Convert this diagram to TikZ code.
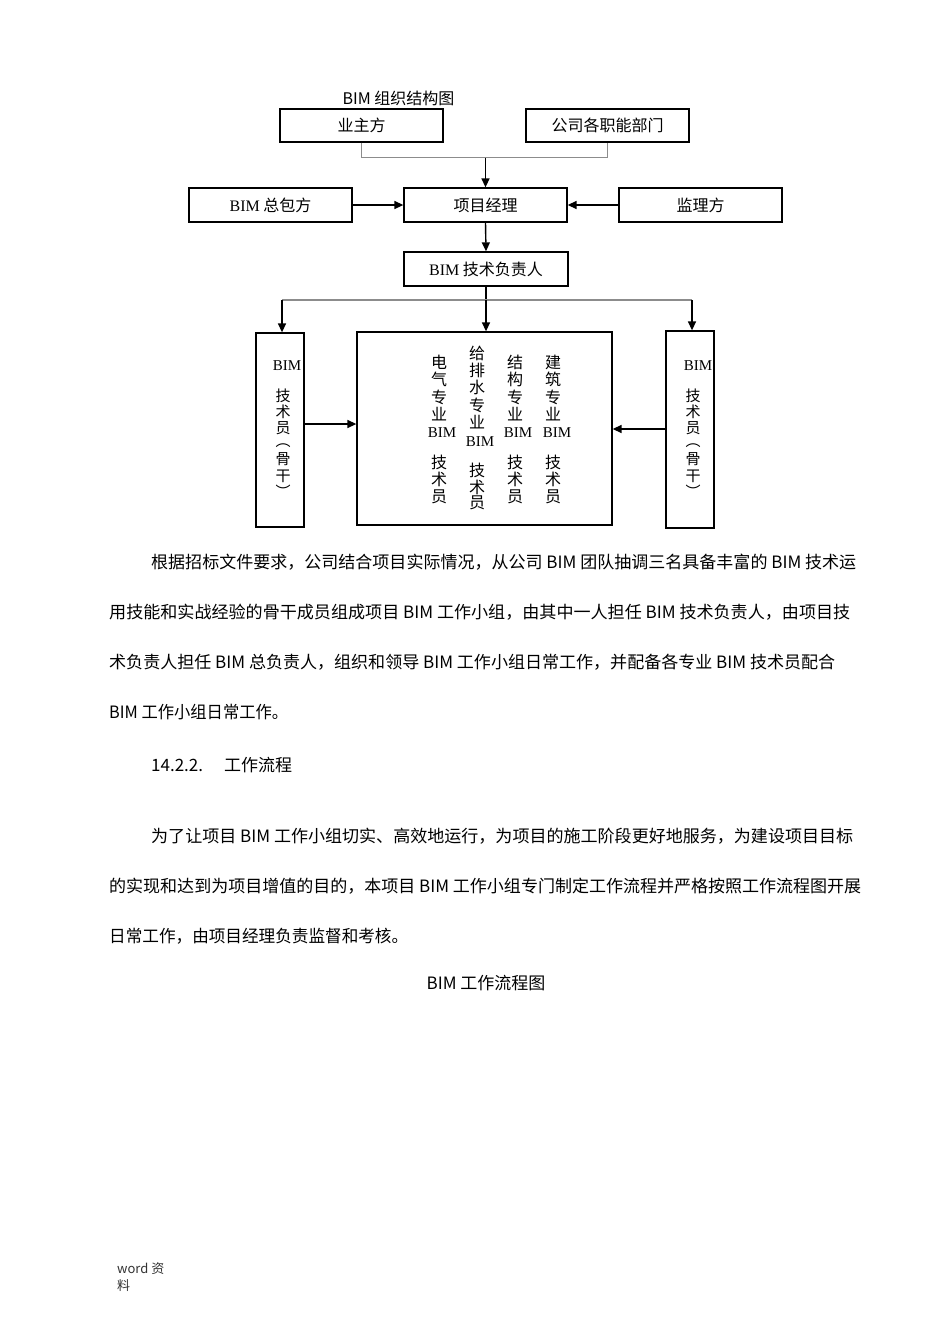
\documentclass[tikz,border=0pt]{standalone}
\usepackage{fontspec}
\usepackage{graphicx}
\setmainfont{Liberation Serif}
\newfontfamily\cjk{Noto Sans CJK SC}
\usetikzlibrary{arrows.meta}
\newcommand\pline[5]{\node[anchor=base west,inner sep=0] (#1) at (#2,#3) {\resizebox{#4pt}{\height}{\cjk\fontsize{17}{17}\selectfont #5}};}
\begin{document}
\begin{tikzpicture}[x=1pt,y=-1pt,
  box/.style={draw=black, line width=1.3pt, inner sep=0pt, font=\cjk\fontsize{16}{17}\selectfont},
  arr/.style={-{Triangle[length=9pt,width=8pt]}, line width=1.4pt},
  gline/.style={draw=black!45, line width=1.2pt},
  vt/.style={inner sep=0pt, font=\cjk\fontsize{16}{16}\selectfont},
  vs/.style={inner sep=0pt, font=\cjk\fontsize{15}{15}\selectfont},
  vb/.style={inner sep=0pt, font=\rmfamily\fontsize{15}{15}\selectfont}]
\fill[white] (0,0) rectangle (950,1344);
\useasboundingbox (0,0) rectangle (950,1344);

% title
\node[anchor=base, inner sep=0, font=\cjk\fontsize{16}{16}\selectfont] (title) at (398.5,104) {BIM 组织结构图};

% boxes
\node[box, minimum width=163pt, minimum height=33pt] (yz) at (361.5,125.5) {业主方};
\node[box, minimum width=163pt, minimum height=33pt] (gs) at (607.5,125.5) {公司各职能部门};
\node[box, minimum width=163pt, minimum height=34pt] (zb) at (270.5,205) {{\rmfamily BIM} 总包方};
\node[box, minimum width=163pt, minimum height=34pt] (xm) at (485.5,205) {项目经理};
\node[box, minimum width=163pt, minimum height=34pt] (jl) at (700.5,205) {监理方};
\node[box, minimum width=164pt, minimum height=34pt] (fz) at (486,269) {{\rmfamily BIM} 技术负责人};
\node[box, minimum width=48pt, minimum height=194pt] (L) at (280,430) {};
\node[box, minimum width=255pt, minimum height=193pt] (M) at (484.5,428.5) {};
\node[box, minimum width=48pt, minimum height=197pt] (R) at (690,429.5) {};

% connectors
\coordinate (j1) at (485.5,157.5);
\draw[gline] (yz.south) |- (j1) -| (gs.south);
\draw[arr] (j1) -- (xm.north);
\draw[arr] (zb.east) -- (xm.west);
\draw[arr] (jl.west) -- (xm.east);
\draw[arr] (xm.south) -- (fz.north);
\coordinate (hl) at (282,300);
\coordinate (hm) at (486,300);
\coordinate (hr) at (692,300);
\draw[line width=1.4pt] (fz.south) -- (hm);
\draw[gline] (hl) -- (hr);
\draw[arr] (hl) -- (hl |- L.north);
\draw[arr] (hm) -- (hm |- M.north);
\draw[arr] (hr) -- (hr |- R.north);
\coordinate (la) at (305,424);
\coordinate (ra) at (665,429);
\draw[arr] (L.east |- la) -- (M.west |- la);
\draw[arr] (R.west |- ra) -- (M.east |- ra);

% side box texts
\node[vb] (lb) at (287,366) {BIM};
\foreach \t/\y [count=\i] in {技/396,术/412,员/428,︵/446,骨/459,干/476,︶/491}
  \node[vs] (lc\i) at (283,\y) {\t};
\node[vb] (rb) at (698,366) {BIM};
\foreach \t/\y [count=\i] in {技/396,术/412,员/428,︵/446,骨/459,干/476,︶/491}
  \node[vs] (rc\i) at (693,\y) {\t};

% middle box columns
\foreach \t/\y [count=\i] in {电/362,气/379.5,专/397,业/414.5,技/462,术/479.5,员/497}
  \node[vt] (ca\i) at (439,\y) {\t};
\node[vb] (cab) at (442,433) {BIM};
\foreach \t/\y [count=\i] in {给/353,排/370,水/387.5,专/405,业/422,技/470,术/487,员/503}
  \node[vt] (cb\i) at (477,\y) {\t};
\node[vb] (cbb) at (480,442) {BIM};
\foreach \t/\y [count=\i] in {结/362,构/379.5,专/397,业/414.5,技/462,术/479.5,员/497}
  \node[vt] (cc\i) at (515,\y) {\t};
\node[vb] (ccb) at (518,433) {BIM};
\foreach \t/\y [count=\i] in {建/362,筑/379.5,专/397,业/414.5,技/462,术/479.5,员/497}
  \node[vt] (cd\i) at (553,\y) {\t};
\node[vb] (cdb) at (557,433) {BIM};

% paragraphs
\pline{p1}{151}{568.5}{705}{根据招标文件要求，公司结合项目实际情况，从公司 BIM 团队抽调三名具备丰富的 BIM 技术运}
\pline{p2}{109}{618.5}{741}{用技能和实战经验的骨干成员组成项目 BIM 工作小组，由其中一人担任 BIM 技术负责人，由项目技}
\pline{p3}{109}{668.5}{726}{术负责人担任 BIM 总负责人，组织和领导 BIM 工作小组日常工作，并配备各专业 BIM 技术员配合}
\pline{p4}{109}{718.5}{179}{BIM 工作小组日常工作。}
\node[anchor=base west, inner sep=0, font=\cjk\fontsize{17}{17}\selectfont] (h1) at (151,771.5) {14.2.2.};
\node[anchor=base west, inner sep=0, font=\cjk\fontsize{17}{17}\selectfont] (h2) at (224,771.5) {工作流程};
\pline{q1}{151}{842.5}{702}{为了让项目 BIM 工作小组切实、高效地运行，为项目的施工阶段更好地服务，为建设项目目标}
\pline{q2}{109}{892.5}{752}{的实现和达到为项目增值的目的，本项目 BIM 工作小组专门制定工作流程并严格按照工作流程图开展}
\pline{q3}{109}{942.5}{299}{日常工作，由项目经理负责监督和考核。}
\node[anchor=base, inner sep=0, font=\cjk\fontsize{17}{17}\selectfont] (t2) at (486,989.5) {BIM 工作流程图};

% footer
\node[anchor=base west, inner sep=0, font=\cjk\fontsize{13}{13}\selectfont, text=black!80] (f1) at (117,1273) {word 资};
\node[anchor=base west, inner sep=0, font=\cjk\fontsize{13}{13}\selectfont, text=black!80] (f2) at (117,1290) {料};
\end{tikzpicture}
\end{document}
